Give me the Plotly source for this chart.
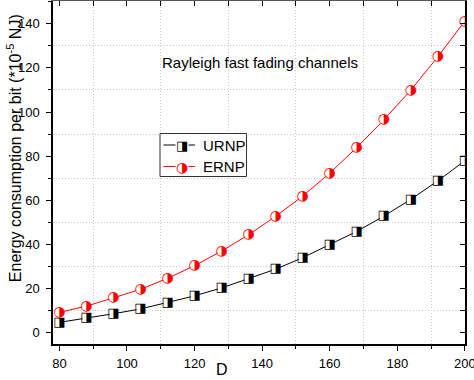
import plotly.graph_objects as go

D = [80, 88, 96, 104, 112, 120, 128, 136, 144, 152, 160, 168, 176, 184, 192, 200]
urnp = [4.7, 6.6, 8.6, 10.8, 13.6, 16.7, 20.3, 24.4, 28.8, 34.0, 39.9, 45.9, 52.8, 60.4, 68.8, 77.9]
ernp = [9.2, 12.1, 15.8, 19.7, 24.6, 30.4, 37.0, 44.4, 52.7, 61.9, 72.3, 83.9, 96.4, 109.9, 125.0, 141.2]
x_ticks = [80, 100, 120, 140, 160, 180, 200]
y_ticks = [0, 20, 40, 60, 80, 100, 120, 140]
x_minor = [90, 110, 130, 150, 170, 190]
y_minor = [10, 30, 50, 70, 90, 110, 130, 150]

FONT = "Liberation Sans, Arial, sans-serif"
GLYPH_FONT = "DejaVu Sans"
SQ = "\u25E8"   # square with right half black
CI = "\u25D1"   # circle with right half black

fig = go.Figure()

fig.add_trace(go.Scatter(x=D, y=urnp, mode="lines+markers", name="URNP",
                         line=dict(color="black", width=1),
                         marker=dict(symbol="square", size=8, color="white", line=dict(width=0)),
                         showlegend=False))
fig.add_trace(go.Scatter(x=D, y=ernp, mode="lines+markers", name="ERNP",
                         line=dict(color="#ff0000", width=1),
                         marker=dict(symbol="circle", size=9, color="white", line=dict(width=0)),
                         showlegend=False))
fig.add_trace(go.Scatter(x=D, y=urnp, mode="text", text=[SQ] * len(D),
                         textposition="middle center",
                         textfont=dict(family=GLYPH_FONT, size=13, color="black"),
                         showlegend=False, hoverinfo="skip"))
fig.add_trace(go.Scatter(x=D, y=ernp, mode="text", text=[CI] * len(D),
                         textposition="middle center",
                         textfont=dict(family=GLYPH_FONT, size=14, color="#ff0000"),
                         showlegend=False, hoverinfo="skip"))

grid = dict(showgrid=True, gridcolor="#c8c8c8", griddash="1px,2px", gridwidth=1)

fig.update_layout(
    width=474, height=380,
    margin=dict(l=53, r=9, t=1, b=36, autoexpand=False),
    paper_bgcolor="white", plot_bgcolor="white",
    font=dict(family=FONT, size=13, color="black"),
    xaxis=dict(range=[78.1, 200.05], tickvals=x_ticks, ticks="outside", ticklen=5, tickwidth=1,
               tickcolor="black", showline=True, linecolor="black", linewidth=1.5,
               showgrid=False, zeroline=False, ticklabelstandoff=2, automargin=False,
               ticklabeloverflow="allow",
               minor=dict(tickvals=x_minor, ticks="outside", ticklen=3,
                          tickcolor="black", **grid)),
    yaxis=dict(range=[-5.1, 150.3], tickvals=y_ticks, ticks="outside", ticklen=5, tickwidth=1,
               tickcolor="black", showline=True, linecolor="black", linewidth=1.5,
               showgrid=False, zeroline=False, ticklabelstandoff=4, automargin=False,
               minor=dict(tickvals=y_minor, ticks="outside", ticklen=3,
                          tickcolor="black", **grid)),
    xaxis2=dict(overlaying="x", matches="x", side="top", tickvals=x_ticks, ticks="inside",
                ticklen=5, tickcolor="black", showticklabels=False, showline=True,
                linecolor="#555555", linewidth=2, showgrid=False, zeroline=False, automargin=False,
                minor=dict(tickvals=x_minor, ticks="inside", ticklen=5,
                           tickcolor="black", showgrid=False)),
    yaxis2=dict(overlaying="y", matches="y", side="right", tickvals=y_ticks, ticks="inside",
                ticklen=5, tickcolor="black", showticklabels=False, showline=True,
                linecolor="black", linewidth=1.5, showgrid=False, zeroline=False, automargin=False,
                minor=dict(tickvals=y_minor, ticks="inside", ticklen=5,
                           tickcolor="black", showgrid=False)),
)

fig.add_trace(go.Scatter(x=D, y=urnp, xaxis="x2", yaxis="y2", mode="lines",
                         line=dict(width=0), opacity=0, showlegend=False, hoverinfo="skip"))

fig.add_annotation(text="Energy consumption per bit (*10<sup>-5</sup> NJ)", xref="paper", yref="paper",
                   x=-0.0947, y=0.571, xanchor="center", yanchor="middle", textangle=-90,
                   showarrow=False, font=dict(family=FONT, size=16, color="black"))
fig.add_annotation(text="D", xref="paper", yref="paper", x=0.41, y=(344 - 380) / 343.0,
                   xanchor="center", yanchor="bottom",
                   showarrow=False, font=dict(family=FONT, size=16, color="black"))
fig.add_annotation(text="Rayleigh fast fading channels", xref="paper", yref="paper",
                   x=0.5024, y=0.820, xanchor="center", yanchor="middle",
                   showarrow=False, font=dict(family=FONT, size=15, color="black"))

def px_x(p):
    return (p - 53) / 412.0

def px_y(p):
    return (344 - p) / 343.0

fig.add_shape(type="rect", xref="paper", yref="paper", x0=px_x(160), x1=px_x(246.5),
              y0=px_y(176.5), y1=px_y(133.5), line=dict(color="#333333", width=1), fillcolor="white")
entries = [("URNP", "black", SQ, 145, 13), ("ERNP", "#ff0000", CI, 166.5, 14)]
for name, col, g, yy, gs in entries:
    fig.add_shape(type="line", xref="paper", yref="paper", x0=px_x(163.5), x1=px_x(195),
                  y0=px_y(yy), y1=px_y(yy), line=dict(color=col, width=1))
    fig.add_annotation(text=g, xref="paper", yref="paper", x=px_x(181.5), y=px_y(yy),
                       xanchor="center", yanchor="middle", showarrow=False, bgcolor="white",
                       borderpad=0, font=dict(family=GLYPH_FONT, size=gs, color=col))
    fig.add_annotation(text=name, xref="paper", yref="paper", x=px_x(200.5), y=px_y(yy),
                       xanchor="left", yanchor="middle", showarrow=False,
                       font=dict(family=FONT, size=15, color="black"))

fig.write_html("out.html", config={"displayModeBar": False},
               post_script="document.body.style.margin='0px';document.body.style.overflow='hidden';")
